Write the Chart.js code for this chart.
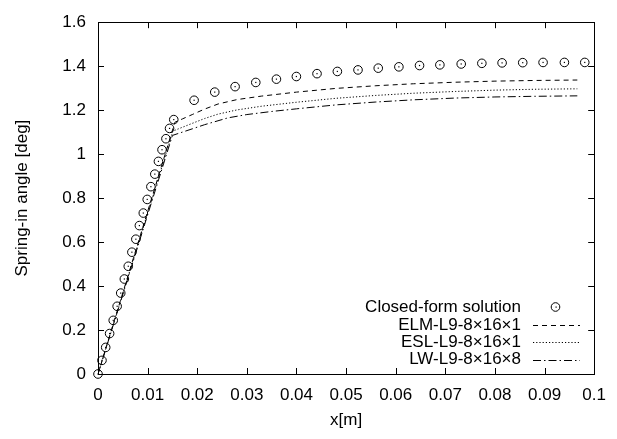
<!DOCTYPE html>
<html>
<head>
<meta charset="utf-8">
<script src="https://cdn.jsdelivr.net/npm/chart.js@4/dist/chart.umd.min.js"></script>
<style>
  html, body { margin: 0; padding: 0; background: #fff; }
  #wrap { width: 617px; height: 439px; }
</style>
</head>
<body>
<div id="wrap"><canvas id="c" width="617" height="439"></canvas></div>
<script>
// ---- data ----
const closedX = [0, 0.0008, 0.00155, 0.00234, 0.00307, 0.00386, 0.00458, 0.00531, 0.0061, 0.00683,
  0.00763, 0.00834, 0.00913, 0.00992, 0.01066, 0.01145, 0.01218, 0.0129, 0.01369, 0.01442,
  0.01527, 0.01937, 0.02353, 0.02763, 0.0318, 0.03596, 0.03998, 0.04414, 0.04824, 0.0524,
  0.05648, 0.06064, 0.0648, 0.0689, 0.0732, 0.07736, 0.08144, 0.0856, 0.0897, 0.094, 0.0981];
const closedY = [0, 0.062, 0.121, 0.184, 0.244, 0.308, 0.368, 0.432, 0.49, 0.554,
  0.613, 0.675, 0.732, 0.794, 0.852, 0.909, 0.967, 1.020, 1.070, 1.117,
  1.157, 1.245, 1.282, 1.307, 1.326, 1.341, 1.353, 1.366, 1.376, 1.383,
  1.391, 1.397, 1.403, 1.406, 1.410, 1.413, 1.415, 1.416, 1.417, 1.417, 1.417];

const elmX = [0, 0.0155, 0.0170, 0.0190, 0.0215, 0.0242, 0.028, 0.033, 0.040, 0.048, 0.056, 0.0636, 0.072, 0.080, 0.088, 0.0966];
const elmY = [0, 1.145, 1.160, 1.180, 1.205, 1.228, 1.248, 1.264, 1.282, 1.299, 1.311, 1.320, 1.327, 1.332, 1.335, 1.337];

const eslX = [0, 0.0151, 0.0170, 0.0190, 0.0215, 0.0242, 0.028, 0.033, 0.040, 0.048, 0.056, 0.0636, 0.072, 0.080, 0.088, 0.0966];
const eslY = [0, 1.105, 1.122, 1.140, 1.162, 1.182, 1.201, 1.218, 1.236, 1.254, 1.267, 1.277, 1.285, 1.291, 1.295, 1.297];

const lwX = [0, 0.0150, 0.0170, 0.0190, 0.0215, 0.0262, 0.030, 0.035, 0.040, 0.048, 0.056, 0.0636, 0.072, 0.080, 0.088, 0.0966];
const lwY = [0, 1.085, 1.100, 1.115, 1.134, 1.165, 1.180, 1.194, 1.206, 1.224, 1.237, 1.247, 1.255, 1.260, 1.263, 1.265];

const xTickValues = [0, 0.01, 0.02, 0.03, 0.04, 0.05, 0.06, 0.07, 0.08, 0.09, 0.1];
const xTickLabels = ['0', '0.01', '0.02', '0.03', '0.04', '0.05', '0.06', '0.07', '0.08', '0.09', '0.1'];
const yTickValues = [0, 0.2, 0.4, 0.6, 0.8, 1.0, 1.2, 1.4, 1.6];
const yTickLabels = ['0', '0.2', '0.4', '0.6', '0.8', '1', '1.2', '1.4', '1.6'];

const seriesNames = ['Closed-form solution', 'ELM-L9-8\u00d716\u00d71', 'ESL-L9-8\u00d716\u00d71', 'LW-L9-8\u00d716\u00d78'];

// ---- styling ----
const FONT = '"Liberation Sans", Arial, Helvetica, sans-serif';
const FS = 17;
const dashes = [[], [5, 4], [1.2, 2], [8, 3, 1.5, 3]];
const R = 4.3;

function zip(xs, ys) { return xs.map((x, i) => ({ x: x, y: ys[i] })); }

function drawMarker(ctx, x, y) {
  ctx.beginPath();
  ctx.arc(x, y, R, 0, Math.PI * 2);
  ctx.stroke();
  ctx.fillRect(Math.round(x) - 0.5, Math.round(y) - 0.5, 1.2, 1.2);
}

const markerDots = {
  id: 'markerDots',
  afterDatasetsDraw(chart) {
    const ctx = chart.ctx;
    const meta = chart.getDatasetMeta(0);
    ctx.save();
    ctx.fillStyle = '#000';
    meta.data.forEach(el => {
      ctx.fillRect(el.x - 0.6, el.y - 0.6, 1.2, 1.2);
    });
    ctx.restore();
  }
};

const frameAndTicks = {
  id: 'frameAndTicks',
  afterDraw(chart) {
    const { ctx, chartArea: a } = chart;
    const xs = chart.scales.x, ys = chart.scales.y;
    ctx.save();
    ctx.strokeStyle = '#000';
    ctx.lineWidth = 1;
    ctx.strokeRect(Math.round(a.left) + 0.5, Math.round(a.top) + 0.5,
      Math.round(a.right) - Math.round(a.left), Math.round(a.bottom) - Math.round(a.top));
    const T = 6;
    ctx.beginPath();
    xTickValues.forEach(v => {
      const px = Math.round(xs.getPixelForValue(v)) + 0.5;
      ctx.moveTo(px, a.bottom); ctx.lineTo(px, a.bottom - T);
      ctx.moveTo(px, a.top); ctx.lineTo(px, a.top + T);
    });
    yTickValues.forEach(v => {
      const py = Math.round(ys.getPixelForValue(v)) + 0.5;
      ctx.moveTo(a.left, py); ctx.lineTo(a.left + T, py);
      ctx.moveTo(a.right, py); ctx.lineTo(a.right - T, py);
    });
    ctx.stroke();

    // legend (gnuplot style: text right-aligned, sample on the right)
    ctx.font = FS + 'px ' + FONT;
    ctx.fillStyle = '#000';
    ctx.textAlign = 'right';
    ctx.textBaseline = 'middle';
    const textRight = 521, sx0 = 533, sx1 = 580, rowY = [307, 325, 342, 359.5];
    seriesNames.forEach((name, i) => {
      ctx.fillText(name, textRight, rowY[i]);
      if (i === 0) {
        drawMarker(ctx, 555.5, rowY[i]);
      } else {
        ctx.beginPath();
        ctx.setLineDash(dashes[i]);
        ctx.moveTo(sx0, Math.round(rowY[i]) + 0.5);
        ctx.lineTo(sx1, Math.round(rowY[i]) + 0.5);
        ctx.stroke();
        ctx.setLineDash([]);
      }
    });
    ctx.restore();
  }
};

const lineDs = (label, xs, ys, i) => ({
  label: label,
  data: zip(xs, ys),
  borderColor: '#000',
  borderWidth: 1,
  borderDash: dashes[i],
  pointRadius: 0,
  fill: false,
  tension: 0,
  showLine: true
});

new Chart(document.getElementById('c'), {
  type: 'scatter',
  data: {
    datasets: [
      {
        label: seriesNames[0],
        data: zip(closedX, closedY),
        pointStyle: 'circle',
        pointRadius: R,
        pointBorderWidth: 1,
        pointBorderColor: '#000',
        pointBackgroundColor: 'rgba(0,0,0,0)',
        showLine: false,
        clip: false
      },
      lineDs(seriesNames[1], elmX, elmY, 1),
      lineDs(seriesNames[2], eslX, eslY, 2),
      lineDs(seriesNames[3], lwX, lwY, 3)
    ]
  },
  options: {
    responsive: false,
    animation: false,
    devicePixelRatio: 1,
    layout: { padding: { left: 0, top: 12, right: 14.5, bottom: 0 } },
    plugins: { legend: { display: false }, tooltip: { enabled: false } },
    scales: {
      x: {
        type: 'linear',
        min: 0, max: 0.1,
        grid: { display: false, drawTicks: false },
        border: { display: false },
        afterBuildTicks(s) { s.ticks = xTickValues.map(v => ({ value: v })); },
        afterFit(s) { s.height = 65; },
        ticks: {
          color: '#000',
          font: { family: FONT, size: FS },
          padding: 11,
          maxRotation: 0,
          autoSkip: false,
          callback(v, i) { return xTickLabels[i]; }
        },
        title: {
          display: true, text: 'x[m]', color: '#000',
          font: { family: FONT, size: FS },
          padding: { top: 0, bottom: 8 }
        }
      },
      y: {
        type: 'linear',
        min: 0, max: 1.6,
        grid: { display: false, drawTicks: false },
        border: { display: false },
        afterBuildTicks(s) { s.ticks = yTickValues.map(v => ({ value: v })); },
        afterFit(s) { s.width = 98; },
        ticks: {
          color: '#000',
          font: { family: FONT, size: FS },
          padding: 12,
          autoSkip: false,
          callback(v, i) { return yTickLabels[i]; }
        },
        title: {
          display: true, text: 'Spring-in angle [deg]', color: '#000',
          font: { family: FONT, size: FS },
          padding: { top: 12, bottom: 0 }
        }
      }
    }
  },
  plugins: [markerDots, frameAndTicks]
});
</script>
</body>
</html>
